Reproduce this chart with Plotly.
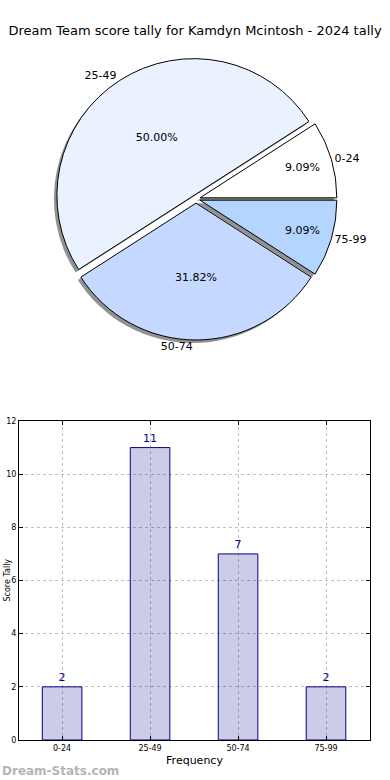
import plotly.graph_objects as go

categories = ["0-24", "25-49", "50-74", "75-99"]
counts = [2, 11, 7, 2]
pie_colors = ["#ffffff", "#eaf1ff", "#c5d8ff", "#b4d5ff"]
pull_vals = [0.03, 0.03, 0.03, 0.03]
y_ticks = [0, 2, 4, 6, 8, 10, 12]

title_text = "Dream Team score tally for Kamdyn Mcintosh - 2024 tally"
y_title_text = "Score Tally"
font_family = "DejaVu Sans"

W, H = 390, 780

def px_x(v):
    return v / W

def px_y(v):
    return 1 - v / H

# plotly's counterclockwise pies put the first slice's far edge at `rotation`;
# we want the first slice to start at 3 o'clock (matplotlib startangle=0)
first_angle = 360.0 * counts[0] / sum(counts)
rot = 90 - first_angle

# pie geometry (pixels)
cx, cy, half = 196, 199, 141
pie_dom_x = [px_x(cx - half), px_x(cx + half)]
pie_dom_y = [px_y(cy + half), px_y(cy - half)]
sh = 3
shadow_dom_x = [px_x(cx - half - sh), px_x(cx + half - sh)]
shadow_dom_y = [px_y(cy + half + sh), px_y(cy - half + sh)]

fig = go.Figure()

# shadow
fig.add_trace(go.Pie(
    labels=categories, values=counts, sort=False, direction="counterclockwise",
    rotation=rot, pull=pull_vals, domain=dict(x=shadow_dom_x, y=shadow_dom_y),
    marker=dict(colors=["rgba(110,110,110,0.75)"] * 4, line=dict(width=0)),
    textinfo="none", hoverinfo="skip", showlegend=False,
))

# main pie with percentages
fig.add_trace(go.Pie(
    labels=categories, values=counts, sort=False, direction="counterclockwise",
    rotation=rot, pull=pull_vals, domain=dict(x=pie_dom_x, y=pie_dom_y),
    marker=dict(colors=pie_colors, line=dict(color="black", width=1)),
    texttemplate="%{percent:.2%}", textposition="inside",
    insidetextorientation="horizontal",
    textfont=dict(family=font_family, size=11, color="black"),
    showlegend=False,
))

# outside labels
fig.add_trace(go.Pie(
    labels=categories, values=counts, sort=False, direction="counterclockwise",
    rotation=rot, pull=pull_vals, domain=dict(x=pie_dom_x, y=pie_dom_y),
    marker=dict(colors=["rgba(0,0,0,0)"] * 4, line=dict(width=0)),
    texttemplate="%{label}", textposition="outside",
    outsidetextfont=dict(family=font_family, size=11, color="black"),
    hoverinfo="skip", showlegend=False,
))

# bar chart
fig.add_trace(go.Bar(
    x=categories, y=counts, width=0.45,
    marker=dict(color="rgba(0,0,128,0.2)", line=dict(color="#00008b", width=1)),
    text=[str(c) for c in counts], textposition="outside",
    textfont=dict(family=font_family, size=11, color="#00008b"),
    cliponaxis=False, showlegend=False, xaxis="x", yaxis="y",
))

fig.update_layout(
    width=W, height=H,
    margin=dict(l=0, r=0, t=0, b=0),
    paper_bgcolor="white", plot_bgcolor="white",
    font=dict(family=font_family, color="black"),
    title=dict(text=title_text, x=0.5, xanchor="center", y=px_y(30), yanchor="middle",
               font=dict(family=font_family, size=13, color="black")),
    xaxis=dict(
        domain=[px_x(19), px_x(370)], anchor="y",
        range=[-0.49, 3.5], type="category",
        showline=True, linecolor="black", linewidth=1, mirror="allticks",
        ticks="inside", ticklen=4, tickcolor="black",
        showgrid=True, gridcolor="#c0c0c0", griddash="dot", gridwidth=1,
        tickfont=dict(family=font_family, size=8, color="black"),
        title=dict(text="Frequency", font=dict(family=font_family, size=11), standoff=4),
        automargin=False, zeroline=False,
    ),
    yaxis=dict(
        domain=[px_y(740), px_y(421)], anchor="x",
        range=[0, 12], tickvals=y_ticks,
        showline=True, linecolor="black", linewidth=1, mirror="allticks",
        ticks="inside", ticklen=4, tickcolor="black",
        showgrid=True, gridcolor="#c0c0c0", griddash="dot", gridwidth=1,
        tickfont=dict(family=font_family, size=8, color="black"),
        automargin=False, zeroline=False,
    ),
    annotations=[
        dict(
            text=y_title_text, x=px_x(0), y=px_y(580), xref="paper", yref="paper",
            xanchor="left", yanchor="middle", textangle=-90, showarrow=False,
            font=dict(family=font_family, size=8, color="black"),
        ),
        dict(
            text="<b>Dream-Stats.com</b>", x=0, y=px_y(771), xref="paper", yref="paper",
            xanchor="left", yanchor="middle", showarrow=False,
            font=dict(family=font_family, size=12, color="#b4b4b4"),
        ),
    ],
)

fig.write_html("out.html", config={"displayModeBar": False},
               post_script="document.body.style.margin='0';")
